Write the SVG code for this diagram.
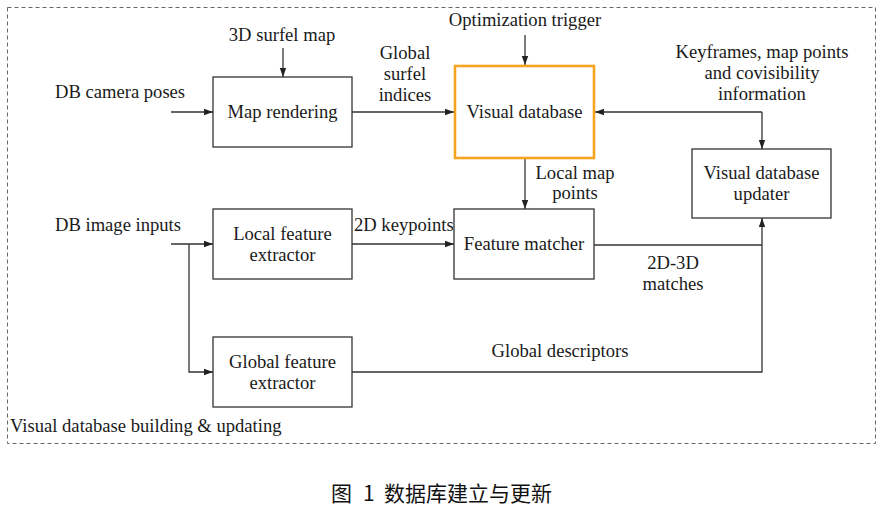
<svg xmlns="http://www.w3.org/2000/svg" width="890" height="516" viewBox="0 0 890 516">
<style>
.box{fill:#fff;stroke:#333;stroke-width:1.3}
.hl{fill:#fff;stroke:#F5A320;stroke-width:2.6}
.t{font-family:"Liberation Serif","Times New Roman",serif;font-size:18.6px;fill:#1a1a1a}
.m{text-anchor:middle}
.c{fill:none;stroke:#333;stroke-width:1.3}
.cap{font-family:"Noto Sans CJK SC","Liberation Serif",sans-serif;font-size:21px;fill:#111}
</style>
<defs>
<marker id="ah" markerWidth="10" markerHeight="8" refX="9" refY="4" orient="auto" markerUnits="userSpaceOnUse">
<path d="M0,0.8 L9,4 L0,7.2 Z" fill="#222"/>
</marker>
<marker id="ahs" markerWidth="10" markerHeight="8" refX="9" refY="4" orient="auto-start-reverse" markerUnits="userSpaceOnUse">
<path d="M0,0.8 L9,4 L0,7.2 Z" fill="#222"/>
</marker>
</defs>
<rect x="7.5" y="7.5" width="868" height="436" fill="none" stroke="#666" stroke-width="1" stroke-dasharray="4 3"/>
<text class="t" x="10" y="432">Visual database building &amp; updating</text>

<g id="connectors">
<line class="c" x1="171" y1="112" x2="213" y2="112" marker-end="url(#ah)"/>
<line class="c" x1="283" y1="48" x2="283" y2="77" marker-end="url(#ah)"/>
<line class="c" x1="352" y1="112" x2="454" y2="112" marker-end="url(#ah)"/>
<line class="c" x1="525" y1="35" x2="525" y2="65" marker-end="url(#ah)"/>
<path class="c" d="M762,112 H595" marker-end="url(#ahs)"/>
<path class="c" d="M762,112 V149" marker-end="url(#ah)"/>
<line class="c" x1="525" y1="159" x2="525" y2="209" marker-end="url(#ah)"/>
<line class="c" x1="171" y1="244" x2="213" y2="244" marker-end="url(#ah)"/>
<path class="c" d="M189,244 V372 H213" marker-end="url(#ah)"/>
<line class="c" x1="352" y1="244" x2="454" y2="244" marker-end="url(#ah)"/>
<path class="c" d="M594,245 H762"/>
<path class="c" d="M352,372 H762 V218" marker-end="url(#ah)"/>
<text class="t" x="55" y="98">DB camera poses</text>
<text class="t m" x="282" y="41">3D surfel map</text>
<text class="t m" x="405" y="59">Global</text>
<text class="t m" x="405" y="80">surfel</text>
<text class="t m" x="405" y="101">indices</text>
<text class="t m" x="525" y="26">Optimization trigger</text>
<text class="t m" x="762" y="58">Keyframes, map points</text>
<text class="t m" x="762" y="79">and covisibility</text>
<text class="t m" x="762" y="100">information</text>
<text class="t m" x="575" y="179">Local map</text>
<text class="t m" x="575" y="199">points</text>
<text class="t" x="55" y="231">DB image inputs</text>
<text class="t" x="354" y="231">2D keypoints</text>
<text class="t m" x="673" y="269">2D-3D</text>
<text class="t m" x="673" y="290">matches</text>
<text class="t m" x="560" y="357">Global descriptors</text>
</g>

<g id="map-rendering">
<rect class="box" x="213" y="77" width="139" height="70"/>
<text class="t m" x="282.5" y="118">Map rendering</text>
</g>
<g id="visual-database">
<rect class="hl" x="455" y="66" width="139" height="92"/>
<text class="t m" x="524.5" y="118">Visual database</text>
</g>
<g id="visual-database-updater">
<rect class="box" x="692" y="149" width="139" height="69"/>
<text class="t m" x="761.5" y="179">Visual database</text>
<text class="t m" x="761.5" y="200">updater</text>
</g>
<g id="local-feature-extractor">
<rect class="box" x="213" y="209" width="139" height="70"/>
<text class="t m" x="282.5" y="240">Local feature</text>
<text class="t m" x="282.5" y="261">extractor</text>
</g>
<g id="feature-matcher">
<rect class="box" x="454" y="209" width="140" height="70"/>
<text class="t m" x="524" y="250">Feature matcher</text>
</g>
<g id="global-feature-extractor">
<rect class="box" x="213" y="337" width="139" height="70"/>
<text class="t m" x="282.5" y="368">Global feature</text>
<text class="t m" x="282.5" y="389">extractor</text>
</g>

<text class="cap" y="501"><tspan x="331">图</tspan><tspan x="363">1</tspan><tspan x="384">数据库建立与更新</tspan></text>
</svg>
